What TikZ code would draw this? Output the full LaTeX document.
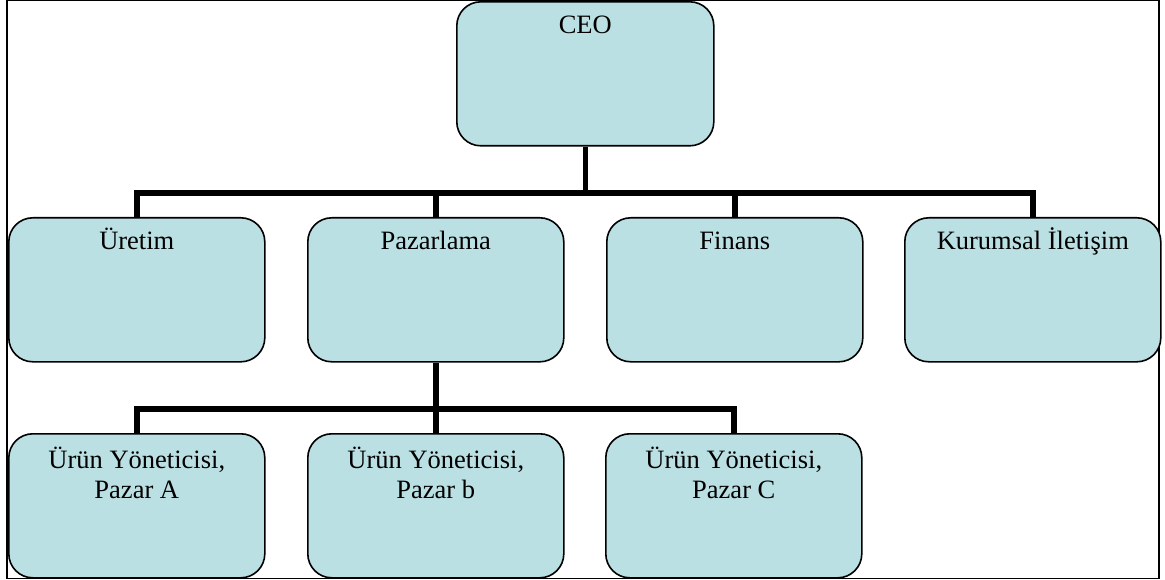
\documentclass[tikz,border=0pt]{standalone}
\usepackage{fontspec}
\setmainfont{Liberation Serif}
\definecolor{boxfill}{RGB}{187,224,227}
\begin{document}
\begin{tikzpicture}[x=1pt,y=-1pt,
  unitbox/.style={draw=black, line width=1.6pt, fill=boxfill, rounded corners=24pt,
    minimum width=256pt, minimum height=144pt, inner sep=0pt, anchor=north west},
  title/.style={anchor=base, inner sep=0pt, font=\fontsize{26.5}{30}\selectfont},
  conn/.style={draw=black, line width=5.5pt, line join=miter}]
\useasboundingbox (0,0) rectangle (1165,580);
% outer frame
\draw[line width=1.5pt] (7,0.75) rectangle (1159,578.5);

% boxes
\node[unitbox, minimum width=257pt] (ceo) at (456,1) {};
\node[unitbox] (ur) at (8,217) {};
\node[unitbox] (pa) at (307,217) {};
\node[unitbox] (fi) at (606,217) {};
\node[unitbox] (ku) at (904,217) {};
\node[unitbox] (pza) at (8,433) {};
\node[unitbox] (pzb) at (307,433) {};
\node[unitbox] (pzc) at (605,433) {};

% titles
\node[title] (ceo-t) at ([yshift=-33pt]ceo.north) {CEO};
\node[title] (ur-t) at ([yshift=-33pt]ur.north) {Üretim};
\node[title] (pa-t) at ([yshift=-33pt]pa.north) {Pazarlama};
\node[title] (fi-t) at ([yshift=-33pt]fi.north) {Finans};
\node[title] (ku-t) at ([yshift=-33pt]ku.north) {Kurumsal İletişim};
\node[title] (pza-t) at ([yshift=-35pt]pza.north)
  {\begin{tabular}[t]{@{}c@{}}Ürün Yöneticisi,\\Pazar A\end{tabular}};
\node[title] (pzb-t) at ([yshift=-35pt]pzb.north)
  {\begin{tabular}[t]{@{}c@{}}Ürün Yöneticisi,\\Pazar b\end{tabular}};
\node[title] (pzc-t) at ([yshift=-35pt]pzc.north)
  {\begin{tabular}[t]{@{}c@{}}Ürün Yöneticisi,\\Pazar C\end{tabular}};

% connector levels
\coordinate (bar1) at (584,193);
\coordinate (bar2) at (435,409);

% CEO to departments
\draw[conn] (ceo.south) -- (ceo.south |- bar1);
\draw[conn] (ur.north) -- (ur.north |- bar1) -- (ku.north |- bar1) -- (ku.north);
\draw[conn] (pa.north) -- (pa.north |- bar1);
\draw[conn] (fi.north) -- (fi.north |- bar1);

% Pazarlama to product managers
\draw[conn] (pa.south) -- (pa.south |- bar2);
\draw[conn] (pza.north) -- (pza.north |- bar2) -- (pzc.north |- bar2) -- (pzc.north);
\draw[conn] (pzb.north) -- (pzb.north |- bar2);
\end{tikzpicture}
\end{document}
